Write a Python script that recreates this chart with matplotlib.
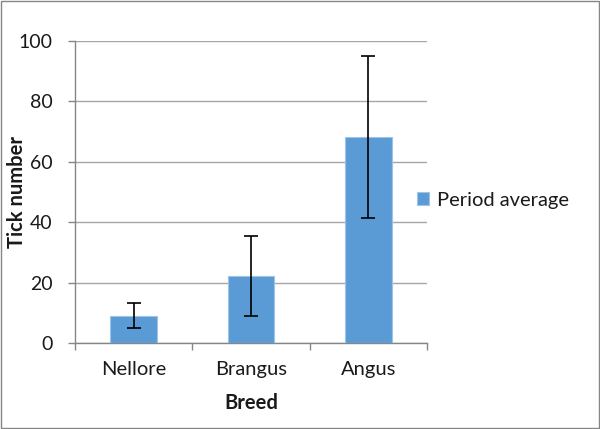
import numpy as np
import matplotlib.pyplot as plt
from matplotlib.patches import Rectangle

plt.rcParams['font.family'] = ['Lato', 'DejaVu Sans']

# Data
breeds = ['Nellore', 'Brangus', 'Angus']
period_avg = [9.1, 22.1, 68.2]
errors = [4.1, 13.3, 26.8]

fig = plt.figure(figsize=(6, 4.29), dpi=100)
ax = fig.add_axes([0.125, 0.2005, 0.5867, 0.704])

x = np.arange(len(breeds))
ax.bar(x, period_avg, width=0.4, color='#5b9bd5', edgecolor='#9dc3e6',
       linewidth=0.8, label='Period average', zorder=3)
ax.errorbar(x, period_avg, yerr=errors, fmt='none', ecolor='black',
            elinewidth=1.2, capsize=5, capthick=1.2, zorder=4)

ax.set_xlim(-0.5, len(breeds) - 0.5)
ax.set_ylim(0, 100)
ax.set_yticks(range(0, 101, 20))
ax.yaxis.grid(True, color='#a6a6a6', linewidth=1, zorder=0)
ax.set_axisbelow(True)

ax.set_xticks(x)
ax.set_xticklabels(breeds)
ax.set_xticks(np.arange(-0.5, len(breeds), 1), minor=True)
ax.tick_params(axis='x', which='major', length=0, pad=13, labelsize=14.5, colors='#1a1a1a')
ax.tick_params(axis='x', which='minor', length=5, color='#868686', width=1)
ax.tick_params(axis='y', length=5, color='#868686', width=1, labelsize=14,
               labelcolor='#1a1a1a', pad=11)

for s in ['top', 'right']:
    ax.spines[s].set_visible(False)
for s in ['left', 'bottom']:
    ax.spines[s].set_color('#868686')
    ax.spines[s].set_linewidth(1)

ax.set_xlabel('Breed', fontsize=14.5, fontweight='bold', color='#1a1a1a')
ax.set_ylabel('Tick number', fontsize=14.5, fontweight='bold', color='#1a1a1a')
ax.xaxis.set_label_coords(0.5, -0.2, transform=ax.transAxes)
ax.yaxis.set_label_coords(-0.165, 0.5, transform=ax.transAxes)
ax.xaxis.label.set_va('center')
ax.yaxis.label.set_va('center')

leg = fig.legend(loc='center left', bbox_to_anchor=(0.665, 0.533), frameon=False,
                 fontsize=14.5, handlelength=0.6, handleheight=0.6, handletextpad=0.4)
for t in leg.get_texts():
    t.set_color('#1a1a1a')

# outer chart border
fig.patches.append(Rectangle((0.002, 0.003), 0.996, 0.994, transform=fig.transFigure,
                             fill=False, edgecolor='#868686', linewidth=1))

fig.savefig('out.png', dpi=100)
